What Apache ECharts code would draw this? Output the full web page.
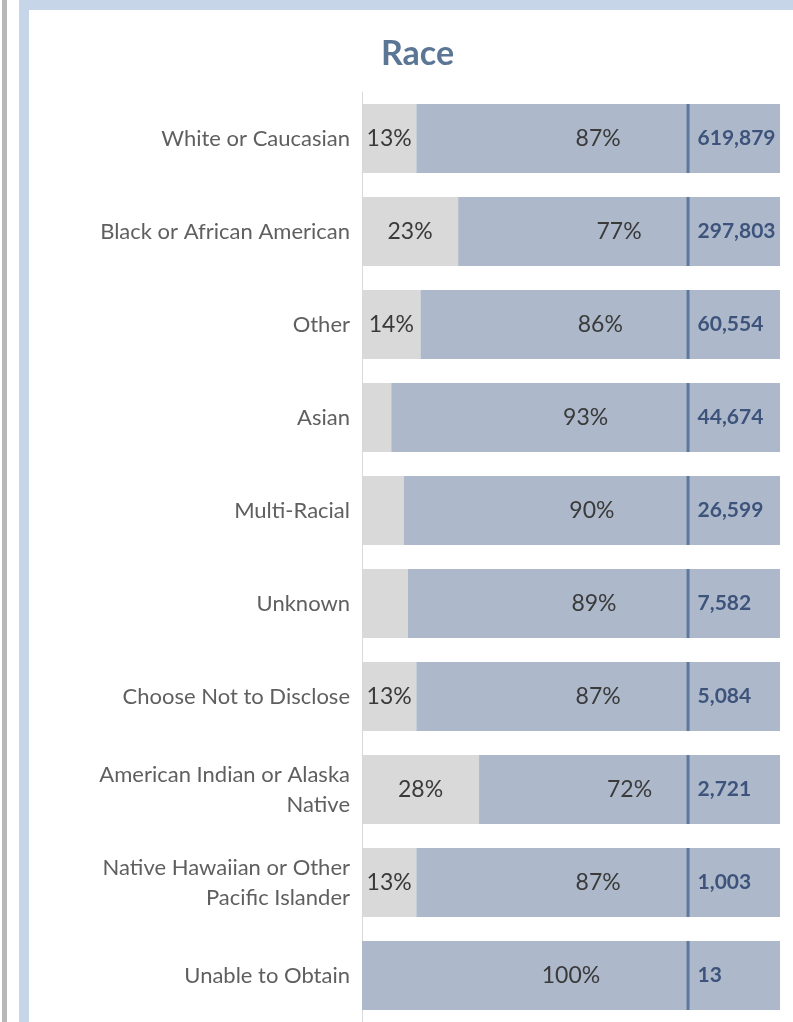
<!DOCTYPE html>
<html lang="en">
<head>
  <meta charset="UTF-8">
  <title>Race</title>
  <script src="https://cdn.jsdelivr.net/npm/echarts@6/dist/echarts.min.js"></script>
</head>
<style>
  * {
    padding: 0px;
    margin: 0px;
  }
  body { background: #fff; }
</style>
<body>
<div id="main" style="width:793px;height:1022px;"></div>
</body>
</html>
<script>
  // race breakdown, share of each group (percent) and headcount
  var categories = [
    'White or Caucasian',
    'Black or African American',
    'Other',
    'Asian',
    'Multi-Racial',
    'Unknown',
    'Choose Not to Disclose',
    'American Indian or Alaska\nNative',
    'Native Hawaiian or Other\nPacific Islander',
    'Unable to Obtain'
  ];
  var grayPct = [13, 23, 14, 7, 10, 11, 13, 28, 13, 0];
  var bluePct = [87, 77, 86, 93, 90, 89, 87, 72, 87, 100];
  var counts = [619879, 297803, 60554, 44674, 26599, 7582, 5084, 2721, 1003, 13];

  window.onload = function () {
    var grayColor = '#d9d9d9';
    var blueColor = '#adb9ca';
    var font = 'Lato';
    var myChart = echarts.init(document.getElementById('main'));

    var countMarks = counts.map(function (c, i) {
      return [78, i, c];
    });

    myChart.setOption({
      animation: false,
      backgroundColor: '#fff',
      graphic: [
        {type: 'rect', shape: {x: 2, y: 0, width: 5, height: 1022}, style: {fill: '#b8b8b8'}},
        {type: 'rect', shape: {x: 19, y: 0, width: 774, height: 10}, style: {fill: '#c6d5e8'}},
        {type: 'rect', shape: {x: 19, y: 0, width: 10, height: 1022}, style: {fill: '#c6d5e8'}}
      ],
      title: {
        text: 'Race',
        left: 376,
        top: 32,
        textStyle: {
          fontFamily: font,
          fontSize: 34,
          fontWeight: 'bold',
          color: '#5b7595'
        }
      },
      grid: {
        left: 362,
        width: 418,
        top: 92,
        height: 930
      },
      xAxis: {
        type: 'value',
        min: 0,
        max: 100,
        show: false
      },
      yAxis: {
        type: 'category',
        data: categories,
        inverse: true,
        axisLine: {lineStyle: {color: '#d9d9d9', width: 1}},
        axisTick: {show: false},
        axisLabel: {
          margin: 12,
          fontFamily: font,
          fontSize: 22,
          lineHeight: 30,
          color: '#5f5f5f',
          align: 'right'
        }
      },
      series: [
        {
          name: 'gray',
          type: 'bar',
          stack: 'share',
          barWidth: 69,
          data: grayPct,
          itemStyle: {color: grayColor},
          label: {
            show: true,
            position: 'inside',
            fontFamily: font,
            fontSize: 23,
            color: '#3a3a3a',
            formatter: function (p) {
              return p.value >= 12 ? p.value + '%' : '';
            }
          }
        },
        {
          name: 'blue',
          type: 'bar',
          stack: 'share',
          barWidth: 69,
          data: bluePct,
          itemStyle: {color: blueColor},
          label: {
            show: true,
            position: 'inside',
            fontFamily: font,
            fontSize: 23,
            color: '#3a3a3a',
            formatter: '{c}%'
          }
        },
        {
          name: 'count',
          type: 'scatter',
          data: countMarks,
          symbol: 'rect',
          symbolSize: [3, 69],
          itemStyle: {color: '#4a6891'},
          label: {
            show: true,
            position: 'right',
            distance: 8,
            fontFamily: font,
            fontSize: 21,
            fontWeight: 'bold',
            color: '#203a68',
            formatter: function (p) {
              return p.value[2].toLocaleString('en-US');
            }
          }
        }
      ]
    });
  };
</script>
